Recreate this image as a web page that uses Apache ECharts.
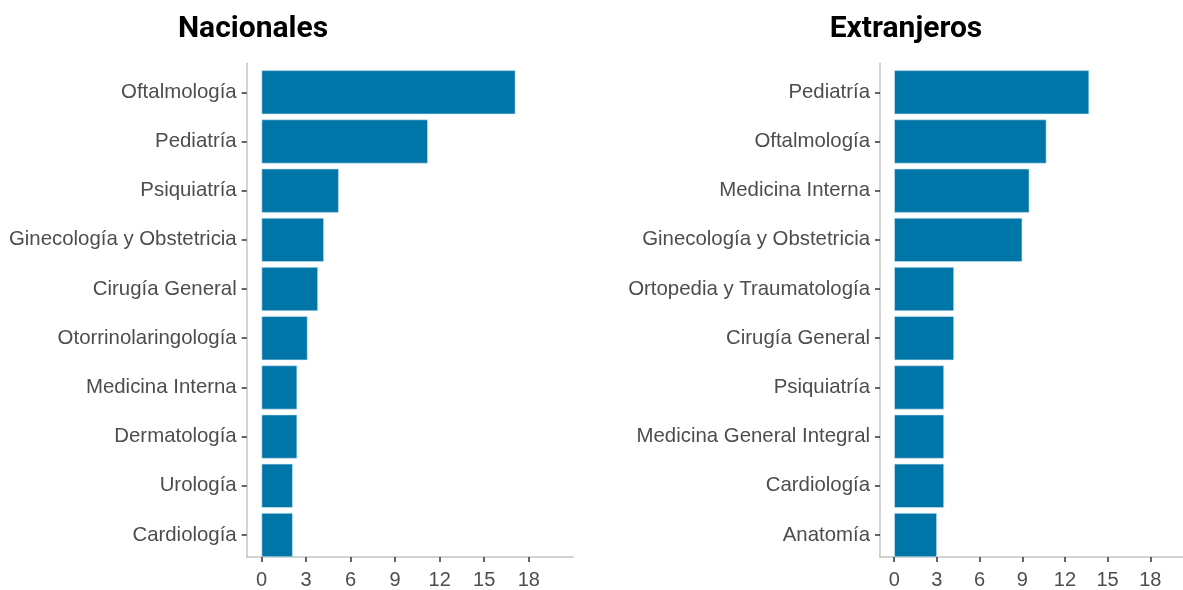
<!DOCTYPE html>
<html>
<head>
<meta charset="utf-8">
<script src="https://cdn.jsdelivr.net/npm/echarts@6/dist/echarts.min.js"></script>
<style>
  html, body { margin: 0; padding: 0; background: #fff; }
  #chart { width: 1183px; height: 590px; }
</style>
</head>
<body>
<div id="chart"></div>
<script>
// datos (porcentaje aprox.)
const nacCategorias = ['Oftalmología', 'Pediatría', 'Psiquiatría', 'Ginecología y Obstetricia', 'Cirugía General',
  'Otorrinolaringología', 'Medicina Interna', 'Dermatología', 'Urología', 'Cardiología']
const nacValores = [17.1, 11.2, 5.2, 4.2, 3.8, 3.1, 2.4, 2.4, 2.1, 2.1]

const extCategorias = ['Pediatría', 'Oftalmología', 'Medicina Interna', 'Ginecología y Obstetricia', 'Ortopedia y Traumatología',
  'Cirugía General', 'Psiquiatría', 'Medicina General Integral', 'Cardiología', 'Anatomía']
const extValores = [13.7, 10.7, 9.5, 9.0, 4.2, 4.2, 3.5, 3.5, 3.5, 3.0]

const xTicks = [0, 3, 6, 9, 12, 15, 18]
const titulos = ['Nacionales', 'Extranjeros']

const azul = '#0076a8'
const gris = '#4d4d4d'
const lineaEje = '#c4c4c4'

// grids: 0/2 barras, 1/3 marco con ejes
const gridBarras = (left, width) => ({ left: left, width: width, top: 67.7, bottom: 30.4 })
const gridMarco = (left, width) => ({ left: left, width: width, top: 63.3, bottom: 27.3 })

// el panel derecho queda cortado por el borde de la imagen
const ejeXOculto = (g, max) => ({
  gridIndex: g, type: 'value', min: -1, max: max, show: false, splitLine: { show: false }
})
const ejeXMarco = (g, max) => ({
  gridIndex: g, type: 'value', min: -1, max: max,
  splitLine: { show: false },
  axisLine: { show: true, onZero: false, lineStyle: { color: lineaEje, width: 1.5 } },
  axisTick: { show: true, length: 5, customValues: xTicks, lineStyle: { color: '#333', width: 1.5 } },
  axisLabel: { customValues: xTicks, fontSize: 20, color: gris, margin: 13, fontFamily: 'Liberation Sans' }
})
const ejeYMarco = (g) => ({
  gridIndex: g, type: 'value', min: 0, max: 1,
  splitLine: { show: false },
  axisLine: { show: true, onZero: false, lineStyle: { color: lineaEje, width: 1.5 } },
  axisTick: { show: false },
  axisLabel: { show: false }
})
const ejeYCat = (g, cats) => ({
  gridIndex: g, type: 'category', data: cats, inverse: true,
  axisLine: { show: false, onZero: false },
  axisTick: { show: true, alignWithLabel: true, length: 5, lineStyle: { color: '#333', width: 1.5 } },
  axisLabel: { fontSize: 20.4, color: gris, margin: 10, fontFamily: 'Liberation Sans' }
})
const serieBarras = (g, vals) => ({
  type: 'bar', xAxisIndex: g, yAxisIndex: g, data: vals, barWidth: 44,
  itemStyle: { color: azul, borderColor: '#cfe6f0', borderWidth: 0.6 },
  silent: true
})

const chart = echarts.init(document.getElementById('chart'))
chart.setOption({
  animation: false,
  title: [
    { text: titulos[0], left: 248, top: 9, textAlign: 'center',
      textStyle: { fontFamily: 'Roboto', fontWeight: 'bold', fontSize: 30, color: '#000' } },
    { text: titulos[1], left: 901, top: 9, textAlign: 'center',
      textStyle: { fontFamily: 'Roboto', fontWeight: 'bold', fontSize: 30, color: '#000' } }
  ],
  grid: [
    gridBarras(246.7, 326.6),
    gridMarco(246.7, 326.6),
    gridBarras(880, 303),
    gridMarco(880, 303)
  ],
  xAxis: [ejeXOculto(0, 21), ejeXMarco(1, 21), ejeXOculto(2, 20.3), ejeXMarco(3, 20.3)],
  yAxis: [ejeYCat(0, nacCategorias), ejeYMarco(1), ejeYCat(2, extCategorias), ejeYMarco(3)],
  series: [
    serieBarras(0, nacValores),
    serieBarras(2, extValores)
  ]
})
</script>
</body>
</html>
